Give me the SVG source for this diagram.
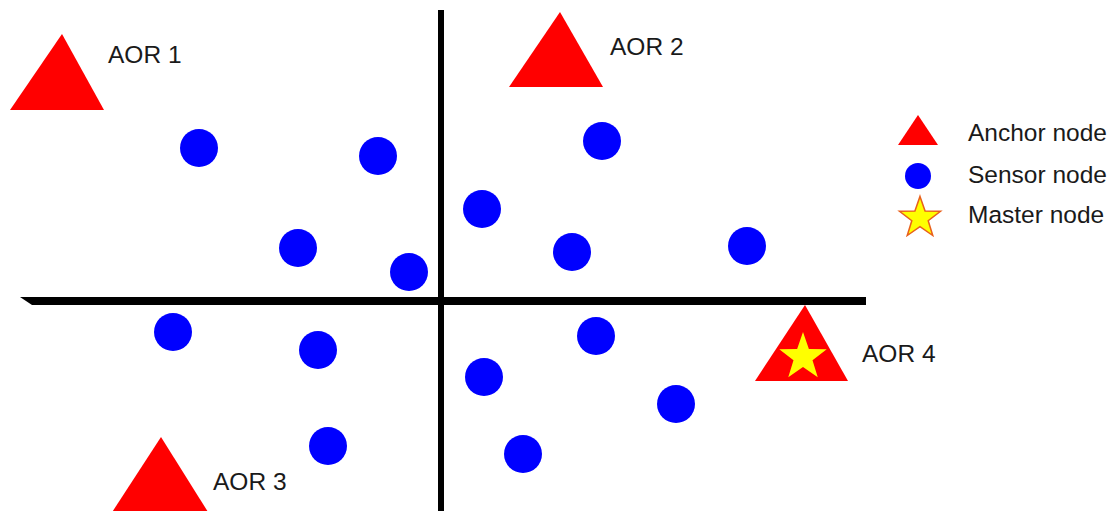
<svg xmlns="http://www.w3.org/2000/svg" width="1116" height="511" viewBox="0 0 1116 511">
<style>
.anchor{fill:#ff0000}
.sensor{fill:#0000ff}
.star{fill:#ffff00}
.lbl{font-family:"Liberation Sans",Arial,sans-serif;font-size:24.5px;fill:#1a1a1a}
.axis{fill:#000}
</style>
<defs>
<polygon id="starShape" points="0,-20 4.7,-6.5 19,-6.2 7.6,2.5 11.8,16.2 0,8 -11.8,16.2 -7.6,2.5 -19,-6.2 -4.7,-6.5"/>
</defs>
<rect width="1116" height="511" fill="#fff"/>
<g id="axes">
<polygon class="axis" points="20,297 866,297 866,305 32,305"/>
<rect class="axis" x="438" y="10" width="6" height="501"/>
</g>
<g id="aor1">
<polygon class="anchor" points="62,34 104,110 10,110"/>
<text class="lbl" x="108" y="63">AOR 1</text>
</g>
<g id="aor2">
<polygon class="anchor" points="560,12 603,87 509,87"/>
<text class="lbl" x="610" y="55">AOR 2</text>
</g>
<g id="aor3">
<polygon class="anchor" points="161,437 213,520 107,520"/>
<text class="lbl" x="213" y="490">AOR 3</text>
</g>
<g id="aor4">
<polygon class="anchor" points="805,305 848,381 755,381"/>
<use href="#starShape" class="star" transform="translate(803,357) scale(1.25)"/>
<text class="lbl" x="862" y="362">AOR 4</text>
</g>
<g id="sensors">
<circle class="sensor" cx="199" cy="148" r="19"/>
<circle class="sensor" cx="378" cy="156" r="19"/>
<circle class="sensor" cx="602" cy="141" r="19"/>
<circle class="sensor" cx="482" cy="209" r="19"/>
<circle class="sensor" cx="298" cy="248" r="19"/>
<circle class="sensor" cx="572" cy="252" r="19"/>
<circle class="sensor" cx="747" cy="246" r="19"/>
<circle class="sensor" cx="409" cy="272" r="19"/>
<circle class="sensor" cx="173" cy="332" r="19"/>
<circle class="sensor" cx="318" cy="350" r="19"/>
<circle class="sensor" cx="596" cy="336" r="19"/>
<circle class="sensor" cx="484" cy="377" r="19"/>
<circle class="sensor" cx="676" cy="404" r="19"/>
<circle class="sensor" cx="328" cy="446" r="19"/>
<circle class="sensor" cx="523" cy="454" r="19"/>
</g>
<g id="legend">
<polygon class="anchor" points="918,115 938,145 898,145"/>
<text class="lbl" x="968" y="141">Anchor node</text>
<circle class="sensor" cx="918" cy="176" r="13"/>
<text class="lbl" x="968" y="183">Sensor node</text>
<use href="#starShape" class="star" transform="translate(920,218) scale(1.08)" stroke="#e8601c" stroke-width="1.4"/>
<text class="lbl" x="968" y="223">Master node</text>
</g>
</svg>
